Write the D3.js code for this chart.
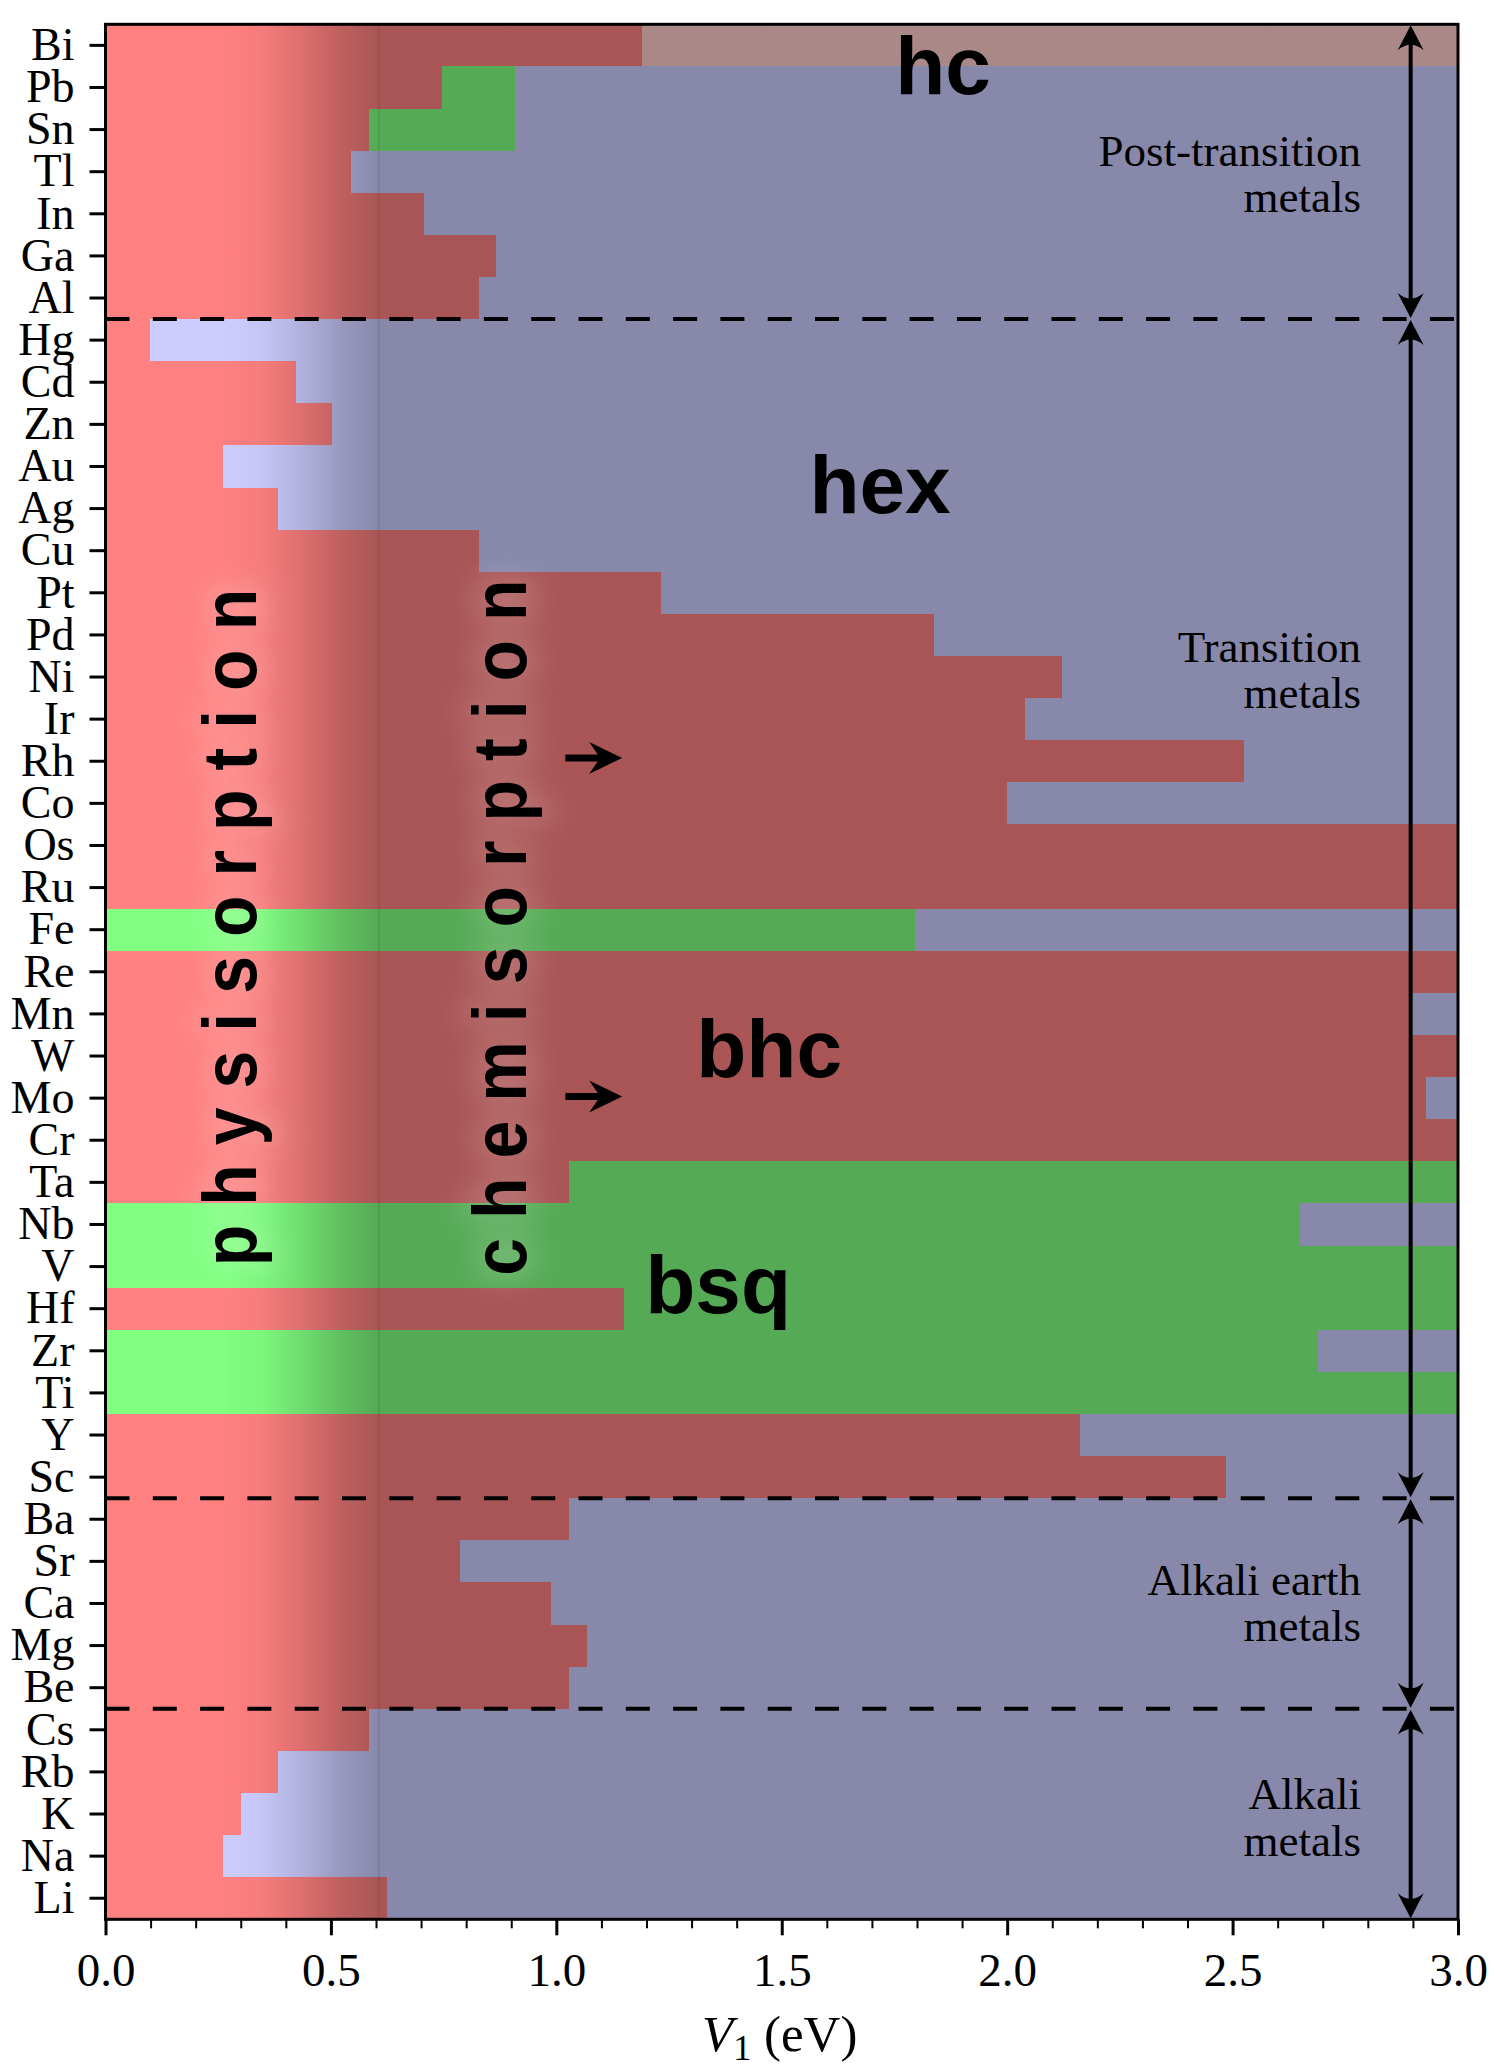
<!DOCTYPE html>
<html><head><meta charset="utf-8">
<script src="https://cdn.jsdelivr.net/npm/d3@7"></script>
<style>body{margin:0;background:#fff} svg{display:block}</style>
</head><body>
<svg id="chart" width="1495" height="2071"></svg>
<script>
// ---------------- data ----------------
const elements = ["Bi","Pb","Sn","Tl","In","Ga","Al","Hg","Cd","Zn","Au","Ag","Cu","Pt","Pd","Ni","Ir","Rh","Co","Os","Ru","Fe","Re","Mn","W","Mo","Cr","Ta","Nb","V","Hf","Zr","Ti","Y","Sc","Ba","Sr","Ca","Mg","Be","Cs","Rb","K","Na","Li"];
const firstPhase = ["bhc","bhc","bhc","bhc","bhc","bhc","bhc","bhc","bhc","bhc","bhc","bhc","bhc","bhc","bhc","bhc","bhc","bhc","bhc","bhc","bhc","bsq","bhc","bhc","bhc","bhc","bhc","bhc","bsq","bsq","bhc","bsq","bsq","bhc","bhc","bhc","bhc","bhc","bhc","bhc","bhc","bhc","bhc","bhc","bhc"];
const firstEdge = [1.19,0.746,0.585,0.544,0.706,0.867,0.828,0.099,0.422,0.503,0.261,0.383,0.828,1.232,1.837,2.121,2.040,2.525,1.999,3.0,3.0,1.796,3.0,2.895,3.0,2.93,3.0,1.028,2.649,3.0,1.150,2.69,3.0,2.162,2.485,1.029,0.786,0.988,1.069,1.029,0.585,0.383,0.301,0.261,0.624];
const secondPhase = ["hc","bsq","bsq","hex","hex","hex","hex","hex","hex","hex","hex","hex","hex","hex","hex","hex","hex","hex","hex",null,null,"hex",null,"hex",null,"hex",null,"bsq","hex",null,"bsq","hex",null,"hex","hex","hex","hex","hex","hex","hex","hex","hex","hex","hex","hex"];
const secondEdge = [3.0,0.908,0.908,3.0,3.0,3.0,3.0,3.0,3.0,3.0,3.0,3.0,3.0,3.0,3.0,3.0,3.0,3.0,3.0,null,null,3.0,null,3.0,null,3.0,null,3.0,3.0,null,3.0,3.0,null,3.0,3.0,3.0,3.0,3.0,3.0,3.0,3.0,3.0,3.0,3.0,3.0];
const thirdPhase = [null,"hex","hex"].concat(new Array(42).fill(null));
const phaseColors = {bhc:"#ff8080", hex:"#ccccff", bsq:"#80ff80", hc:"#ffcccc"};
const xMajorTicks = [0.0,0.5,1.0,1.5,2.0,2.5,3.0];
const xMinorTicks = [0.1,0.2,0.3,0.4,0.6,0.7,0.8,0.9,1.1,1.2,1.3,1.4,1.6,1.7,1.8,1.9,2.1,2.2,2.3,2.4,2.6,2.7,2.8,2.9];
const groupNames = [["Post-transition","metals"],["Transition","metals"],["Alkali earth","metals"],["Alkali","metals"]];
const groupFirst = ["Bi","Hg","Ba","Cs"];
const groupLast  = ["Al","Sc","Be","Li"];
const groupLabelRow = [3.36,15.14,37.29,42.39];
const phaseLabels = ["hc","hex","bhc","bsq"];
const phaseLabelV = [1.858,1.718,1.472,1.359];
const phaseLabelRow = [1.66,11.61,25.01,30.61];
const sorptionLabels = ["physisorption","chemisorption"];
const sorptionV = [0.334,0.933];
const arrowRows = [17.42,25.46];
const arrowFromTo = [1.02,1.146];
const gradientStart = 0.26, gradientEnd = 0.606;
const groupArrowV = 2.895;

// ---------------- layout ----------------
const L = 105.5, R = 1458, T = 24.3, B = 1919.3;
const svg = d3.select("#chart");
const x = d3.scaleLinear().domain([0,3]).range([L,R]);
const y = d3.scaleBand().domain(elements).range([T,B]).padding(0);
const rowY = r => T + r*y.step();
const serif = "'Liberation Serif','Times New Roman',serif";
const sans = "'Liberation Sans',Arial,Helvetica,sans-serif";

const defs = svg.append("defs");
const grad = defs.append("linearGradient").attr("id","shade")
  .attr("gradientUnits","userSpaceOnUse")
  .attr("x1",x(gradientStart)).attr("x2",x(gradientEnd)).attr("y1",0).attr("y2",0);
[[0,0],[0.25,0.035],[0.5,0.13],[0.75,0.25],[1,0.333]].forEach(([o,a])=>{
  grad.append("stop").attr("offset",o).attr("stop-color","#000").attr("stop-opacity",a);
});
const glow = defs.append("filter").attr("id","glow").attr("x","-50%").attr("y","-50%").attr("width","200%").attr("height","200%");
glow.append("feMorphology").attr("in","SourceAlpha").attr("operator","dilate").attr("radius",8).attr("result","d");
glow.append("feGaussianBlur").attr("in","d").attr("stdDeviation",13).attr("result","b");
glow.append("feFlood").attr("flood-color","#fff").attr("flood-opacity",0.16);
glow.append("feComposite").attr("in2","b").attr("operator","in").attr("result","g");
glow.append("feMerge").append("feMergeNode").attr("in","g");

// segments
const segs = [];
elements.forEach((el,i)=>{
  segs.push({el, phase:firstPhase[i], x0:0, x1:firstEdge[i]});
  if (secondPhase[i]) segs.push({el, phase:secondPhase[i], x0:firstEdge[i], x1:secondEdge[i]});
  if (thirdPhase[i]) segs.push({el, phase:thirdPhase[i], x0:secondEdge[i], x1:3.0});
});
svg.append("g").selectAll("rect").data(segs).join("rect")
  .attr("x",d=>x(d.x0)).attr("width",d=>x(d.x1)-x(d.x0))
  .attr("y",d=>y(d.el)).attr("height",y.bandwidth()+0.3)
  .attr("fill",d=>phaseColors[d.phase]).attr("shape-rendering","crispEdges");

// darkening overlay
svg.append("rect").attr("x",L).attr("y",T).attr("width",R-L).attr("height",B-T).attr("fill","url(#shade)");
svg.append("line").attr("x1",x(gradientEnd)).attr("x2",x(gradientEnd)).attr("y1",T).attr("y2",B)
  .attr("stroke","#000").attr("stroke-opacity",0.08).attr("stroke-width",2);

// sorption labels (rotated, spaced letters) with a soft light halo
const midRow = 21.45;
sorptionLabels.forEach((t,i)=>{
  const g = svg.append("g").attr("transform",`translate(${x(sorptionV[i])},${rowY(midRow)}) rotate(-90) scale(1,1.12)`);
  g.append("text").text(t).attr("text-anchor","middle")
    .attr("font-family",sans).attr("font-weight","bold").attr("font-size",68)
    .attr("letter-spacing",19).attr("dx",9.5).attr("fill","#000").attr("filter","url(#glow)");
  g.append("text").text(t).attr("text-anchor","middle")
    .attr("font-family",sans).attr("font-weight","bold").attr("font-size",68)
    .attr("letter-spacing",19).attr("dx",9.5).attr("fill","#000");
});

// dashed group separators
const breaks = groupLast.slice(0,3).map(e=>y(e)+y.bandwidth());
svg.append("g").selectAll("line").data(breaks).join("line")
  .attr("x1",L).attr("x2",R).attr("y1",d=>d).attr("y2",d=>d)
  .attr("stroke","#000").attr("stroke-width",4).attr("stroke-dasharray","24 23.3");

// group double arrows
const ax = x(groupArrowV);
const ga = svg.append("g");
groupFirst.forEach((f,i)=>{
  const y0 = y(f), y1 = y(groupLast[i]) + y.bandwidth();
  const hl = 25, hw = 13, notch = 8;
  ga.append("line").attr("x1",ax).attr("x2",ax).attr("y1",y0+hl-notch).attr("y2",y1-hl+notch)
    .attr("stroke","#000").attr("stroke-width",4);
  ga.append("path").attr("d",`M${ax},${y0+1} L${ax-hw},${y0+hl+1} Q${ax},${y0+hl-notch-2} ${ax+hw},${y0+hl+1} Z`).attr("fill","#000");
  ga.append("path").attr("d",`M${ax},${y1-1} L${ax-hw},${y1-hl-1} Q${ax},${y1-hl+notch+2} ${ax+hw},${y1-hl-1} Z`).attr("fill","#000");
});

// small right arrows
arrowRows.forEach(r=>{
  const yy = rowY(r), xa = x(arrowFromTo[0]), xb = x(arrowFromTo[1]);
  svg.append("line").attr("x1",xa).attr("x2",xb-20).attr("y1",yy).attr("y2",yy).attr("stroke","#000").attr("stroke-width",7);
  svg.append("path").attr("d",`M${xb},${yy} L${xb-33},${yy-16} L${xb-22},${yy} L${xb-33},${yy+16} Z`).attr("fill","#000");
});

// group labels
groupNames.forEach((lines,i)=>{
  const t = svg.append("text").attr("text-anchor","end").attr("font-family",serif).attr("font-size",45).attr("fill","#000");
  lines.forEach((s,k)=>{
    t.append("tspan").attr("x",x(2.785)).attr("y",rowY(groupLabelRow[i])+k*46.5).text(s);
  });
});

// phase labels
phaseLabels.forEach((s,i)=>{
  svg.append("text").text(s).attr("x",x(phaseLabelV[i])).attr("y",rowY(phaseLabelRow[i]))
    .attr("text-anchor","middle").attr("font-family",sans).attr("font-weight","bold").attr("font-size",82)
    .attr("fill","#000");
});

// frame
svg.append("rect").attr("x",L).attr("y",T).attr("width",R-L).attr("height",B-T)
  .attr("fill","none").attr("stroke","#000").attr("stroke-width",3);

// axes
const xAxis = svg.append("g").attr("transform",`translate(0,${B})`)
  .call(d3.axisBottom(x).tickValues(xMajorTicks).tickFormat(d3.format(".1f")).tickSize(16).tickPadding(17));
const xMinor = svg.append("g").attr("transform",`translate(0,${B})`)
  .call(d3.axisBottom(x).tickValues(xMinorTicks).tickFormat("").tickSize(9));
const yAxis = svg.append("g").attr("transform",`translate(${L},0)`)
  .call(d3.axisLeft(y).tickSize(16).tickPadding(15));
[xAxis,xMinor,yAxis].forEach(g=>{
  g.select(".domain").remove();
  g.selectAll(".tick line").attr("stroke","#000").attr("stroke-width",3);
  g.selectAll(".tick text").attr("font-family",serif).attr("font-size",47).attr("fill","#000");
});
xMinor.selectAll(".tick line").attr("stroke-width",2);
yAxis.selectAll(".tick text").attr("font-size",46);

// x axis label
const xl = svg.append("text").attr("x",(L+R)/2-2).attr("y",2051).attr("text-anchor","middle")
  .attr("font-family",serif).attr("font-size",51).attr("fill","#000");
xl.append("tspan").attr("font-style","italic").text("V");
xl.append("tspan").attr("font-size",36).attr("dy",9).text("1");
xl.append("tspan").attr("dy",-9).text(" (eV)");
</script>
</body></html>
